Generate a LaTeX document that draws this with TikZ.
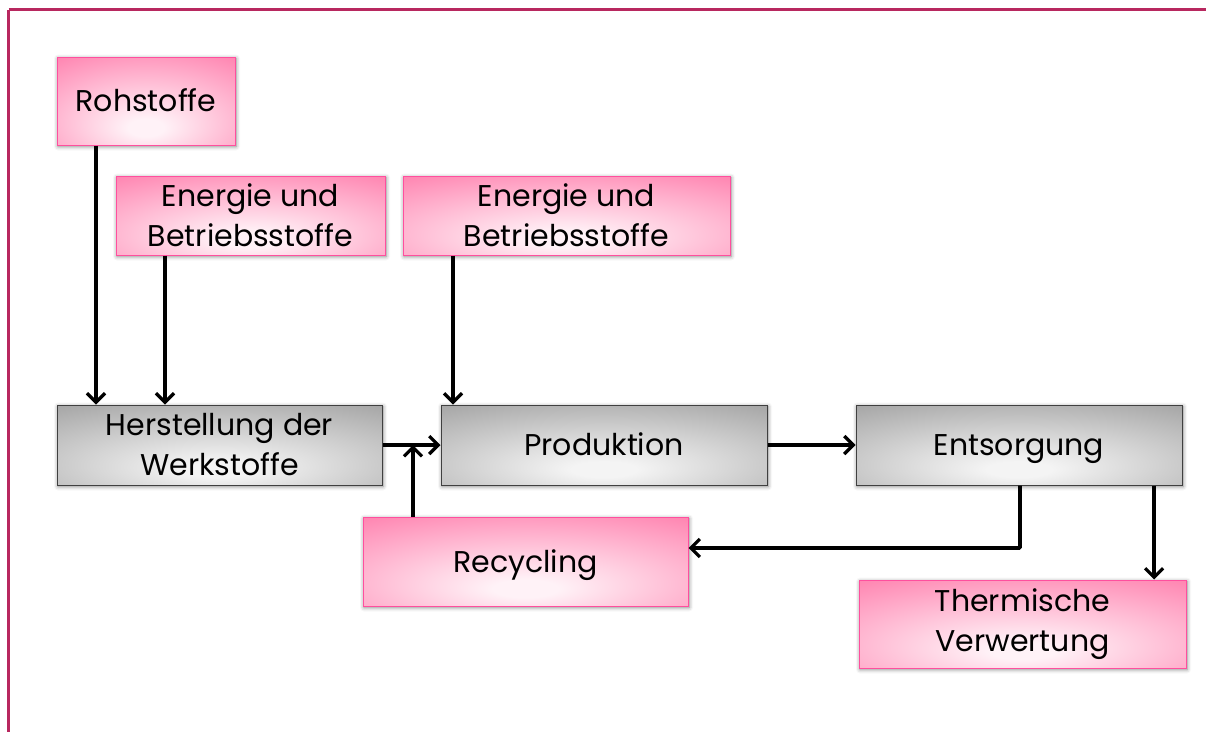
\documentclass[tikz,border=0pt]{standalone}
\usepackage{fontspec}
\setmainfont{Poppins}
\usetikzlibrary{shadows.blur,arrows.meta}
\definecolor{frame}{HTML}{B8285F}
\definecolor{pinkout}{HTML}{FF80AE}
\definecolor{pinkin}{HTML}{FFF2F7}
\definecolor{pinkline}{HTML}{FF4F9E}
\definecolor{grayout}{HTML}{A2A2A2}
\definecolor{grayin}{HTML}{F4F4F4}
\pgfdeclareradialshading{pinkrad}{\pgfpoint{0bp}{-16bp}}{color(0bp)=(pinkin); color(5bp)=(pinkin); color(44bp)=(pinkout); color(100bp)=(pinkout)}
\pgfdeclareradialshading{grayrad}{\pgfpoint{0bp}{-16bp}}{color(0bp)=(grayin); color(5bp)=(grayin); color(44bp)=(grayout); color(100bp)=(grayout)}
\tikzset{
  base/.style={rectangle, inner sep=0pt, align=center,
    font=\fontsize{30}{40}\selectfont,
    blur shadow={shadow xshift=1pt, shadow yshift=-1.5pt, shadow blur radius=4pt, shadow opacity=50}},
  oneline/.style={text height=21pt, text depth=0pt},
  pinkbox/.style={base, draw=pinkline, line width=1pt, shading=pinkrad},
  graybox/.style={base, draw=black!75, line width=1pt, shading=grayrad},
  conn/.style={line width=3.6pt, -{Straight Barb[length=9pt,width=18pt,line width=3.2pt]}},
}
\begin{document}
\begin{tikzpicture}[x=1pt,y=-1pt]
\useasboundingbox (0,0) rectangle (1206,731);
\draw[frame, line width=3.5pt] (8.5,9.5) -- (1230,9.5);
\draw[frame, line width=3.5pt] (8.5,9.5) -- (8.5,760);

\node[pinkbox, oneline, minimum width=178pt, minimum height=88pt] (roh) at (146,101) {Rohstoffe};
\node[pinkbox, minimum width=269pt, minimum height=79pt] (en1) at (250.5,215.5) {Energie und\\Betriebsstoffe};
\node[pinkbox, minimum width=327pt, minimum height=79pt] (en2) at (566.5,215.5) {Energie und\\Betriebsstoffe};
\node[graybox, minimum width=325pt, minimum height=80pt] (her) at (219.5,445) {Herstellung der\\Werkstoffe};
\node[graybox, oneline, minimum width=326pt, minimum height=80pt] (pro) at (604,445) {Produktion};
\node[graybox, oneline, minimum width=326pt, minimum height=80pt] (ent) at (1019,445) {Entsorgung};
\node[pinkbox, oneline, minimum width=325pt, minimum height=89pt] (rec) at (525.5,561.5) {Recycling};
\node[pinkbox, minimum width=327pt, minimum height=88pt] (the) at (1022.5,624) {Thermische\\Verwertung};

\draw[conn] (roh.south -| 96,0) -- (her.north -| 96,0);
\draw[conn] (en1.south -| 165,0) -- (her.north -| 165,0);
\draw[conn] (en2.south -| 453,0) -- (pro.north -| 453,0);
\draw[conn] (her.east) -- (pro.west);
\coordinate (j) at (413,445);
\draw[conn] (rec.north -| j) -- (j);
\draw[conn] (pro.east) -- (ent.west);
\draw[conn, rounded corners=1pt] (ent.south -| 1020,0) |- (rec.east |- 0,548);
\draw[conn] (ent.south -| 1154,0) -- (the.north -| 1154,0);
\end{tikzpicture}
\end{document}
